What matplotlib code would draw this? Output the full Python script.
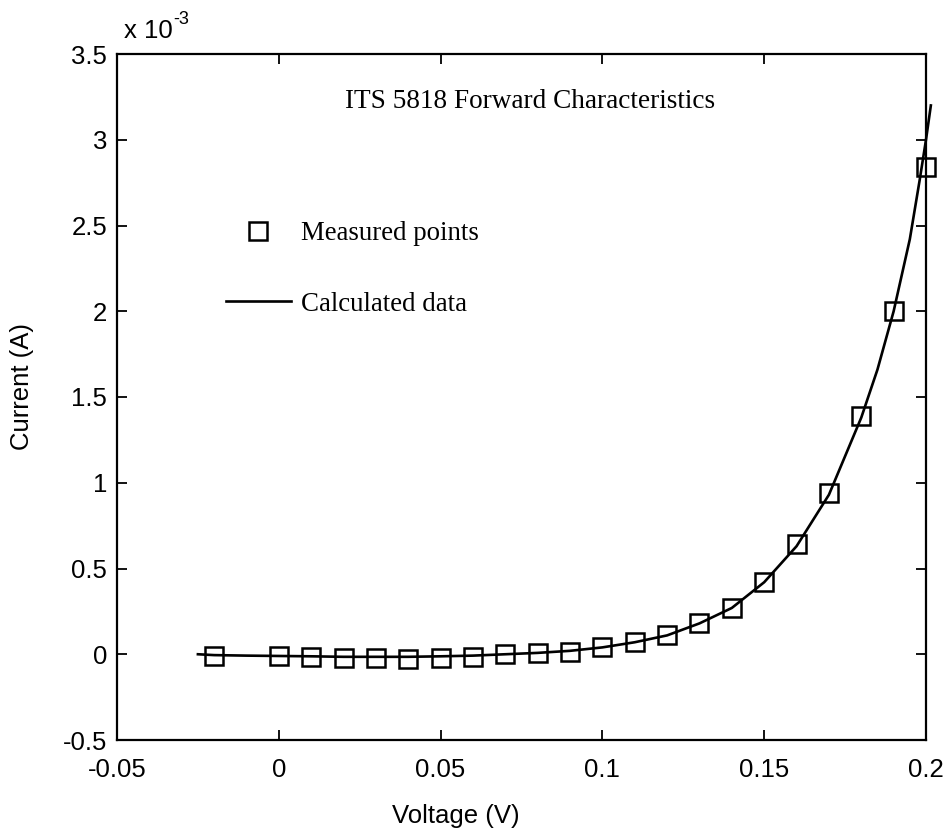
import matplotlib
matplotlib.use("Agg")
import matplotlib.pyplot as plt

# Measured forward characteristic (current in units of 1e-3 A)
measured_v = [-0.02, 0.0, 0.01, 0.02, 0.03, 0.04, 0.05, 0.06, 0.07, 0.08, 0.09,
              0.10, 0.11, 0.12, 0.13, 0.14, 0.15, 0.16, 0.17, 0.18, 0.19, 0.20]
measured_i = [-0.01, -0.01, -0.015, -0.02, -0.02, -0.025, -0.02, -0.015, 0.0, 0.005, 0.015,
              0.04, 0.07, 0.11, 0.18, 0.27, 0.42, 0.64, 0.94, 1.39, 2.0, 2.84]

# Calculated model curve
calc_v = [-0.025, -0.02, -0.01, 0.0, 0.01, 0.02, 0.03, 0.04, 0.05, 0.06, 0.07, 0.08,
          0.09, 0.10, 0.11, 0.12, 0.13, 0.14, 0.15, 0.16, 0.17, 0.18, 0.185,
          0.19, 0.195, 0.198, 0.20, 0.2015]
calc_i = [0.0, -0.005, -0.008, -0.01, -0.012, -0.015, -0.015, -0.015, -0.012, -0.008, 0.0, 0.008,
          0.02, 0.04, 0.07, 0.11, 0.18, 0.27, 0.42, 0.63, 0.93, 1.38, 1.66,
          2.0, 2.42, 2.76, 3.0, 3.2]

x_ticks = [-0.05, 0.0, 0.05, 0.1, 0.15, 0.2]
x_tick_labels = ["-0.05", "0", "0.05", "0.1", "0.15", "0.2"]
y_ticks = [-0.5, 0.0, 0.5, 1.0, 1.5, 2.0, 2.5, 3.0, 3.5]
y_tick_labels = ["-0.5", "0", "0.5", "1", "1.5", "2", "2.5", "3", "3.5"]

sans = ["Liberation Sans", "DejaVu Sans"]
serif = ["Liberation Serif", "DejaVu Serif"]

L, R, T, B = 117, 926, 54, 740
fig = plt.figure(figsize=(9.44, 8.33), dpi=100)
ax = fig.add_axes([L / 944, 1 - B / 833, (R - L) / 944, (B - T) / 833])

ax.plot(calc_v, calc_i, color="black", linewidth=1.9, label="Calculated data",
        clip_on=False, zorder=3)
ax.plot(measured_v, measured_i, linestyle="none", marker="s", markersize=12.5,
        markerfacecolor="none", markeredgecolor="black", markeredgewidth=1.8,
        label="Measured points", clip_on=False, zorder=4)

ax.set_xlim(-0.05, 0.2)
ax.set_ylim(-0.5, 3.5)
ax.set_xticks(x_ticks)
ax.set_xticklabels(x_tick_labels, fontfamily=sans, fontsize=18.5)
ax.set_yticks(y_ticks)
ax.set_yticklabels(y_tick_labels, fontfamily=sans, fontsize=18.5)
ax.tick_params(direction="in", length=7, width=1.3, top=True, right=True)
ax.tick_params(axis="x", pad=13)
ax.tick_params(axis="y", pad=7)
for spine in ax.spines.values():
    spine.set_linewidth(1.6)

ax.set_xlabel("Voltage (V)", fontfamily=sans, fontsize=18.5, labelpad=16)
ax.set_ylabel("Current (A)", fontfamily=sans, fontsize=18.5, labelpad=21)
ax.xaxis.label.set_x((456 - L) / (R - L))
ax.yaxis.label.set_y((B - 386) / (B - T))

# Exponent marker above the y axis
fig.text(124 / 944, 1 - 31 / 833, "x 10", fontfamily=sans, fontsize=18.5,
         ha="left", va="center")
fig.text(173 / 944, 1 - 20 / 833, "-3", fontfamily=sans, fontsize=13,
         ha="left", va="center")

ax.text((530 - L) / (R - L), 1 - (101 - T) / (B - T), "ITS 5818 Forward Characteristics",
        transform=ax.transAxes, fontfamily=serif, fontsize=19.6,
        ha="center", va="center")

handles, labels = ax.get_legend_handles_labels()
leg = ax.legend(handles[::-1], labels[::-1], loc="upper left",
                bbox_to_anchor=((226 - L) / (R - L), 1 - (221 - T) / (B - T)),
                frameon=False, borderpad=0, borderaxespad=0,
                handlelength=2.4, handletextpad=0.4, labelspacing=1.7,
                prop={"family": serif, "size": 19.4})

fig.savefig("out.png", dpi=100, facecolor="white")
